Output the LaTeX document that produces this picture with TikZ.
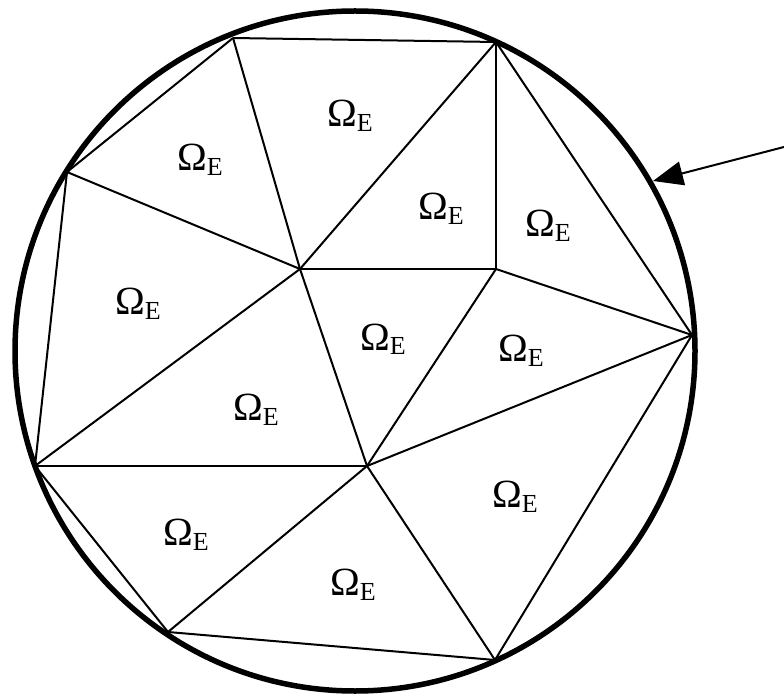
\documentclass[tikz,border=0pt]{standalone}
\usepackage{fontspec}
\setmainfont{Liberation Serif}
\usepackage{tikz}
\usetikzlibrary{arrows.meta}
\newcommand{\omegaE}{{\fontsize{40}{40}\selectfont Ω}\raisebox{-5pt}{\fontsize{26}{26}\selectfont E}}

\begin{document}
\begin{tikzpicture}[x=1pt,y=-1pt,edge/.style={line width=2pt},elabel/.style={anchor=base west,inner sep=0pt}]
\useasboundingbox (0,0) rectangle (784,700);
\coordinate (O) at (355,351);
\coordinate (A) at (233,38);
\coordinate (B) at (496,42);
\coordinate (C) at (67,172);
\coordinate (D) at (300,269);
\coordinate (E) at (496,269);
\coordinate (F) at (692,335);
\coordinate (G) at (35,466);
\coordinate (H) at (367,466);
\coordinate (I) at (168,632);
\coordinate (J) at (495,660);
\draw[edge] (A) -- (B);
\draw[edge] (A) -- (C);
\draw[edge] (A) -- (D);
\draw[edge] (C) -- (D);
\draw[edge] (C) -- (G);
\draw[edge] (B) -- (D);
\draw[edge] (B) -- (E);
\draw[edge] (B) -- (F);
\draw[edge] (D) -- (E);
\draw[edge] (E) -- (F);
\draw[edge] (D) -- (G);
\draw[edge] (D) -- (H);
\draw[edge] (E) -- (H);
\draw[edge] (F) -- (H);
\draw[edge] (F) -- (J);
\draw[edge] (G) -- (H);
\draw[edge] (G) -- (I);
\draw[edge] (H) -- (I);
\draw[edge] (H) -- (J);
\draw[edge] (I) -- (J);
\node[elabel] (L1) at (177,171) {\omegaE};
\node[elabel] (L2) at (327,127) {\omegaE};
\node[elabel] (L3) at (418,220) {\omegaE};
\node[elabel] (L4) at (525,237) {\omegaE};
\node[elabel] (L5) at (115,315) {\omegaE};
\node[elabel] (L6) at (360,350) {\omegaE};
\node[elabel] (L7) at (498,362) {\omegaE};
\node[elabel] (L8) at (233,420) {\omegaE};
\node[elabel] (L9) at (492,507) {\omegaE};
\node[elabel] (L10) at (163,545) {\omegaE};
\node[elabel] (L11) at (330,595) {\omegaE};
\draw[line width=5.5pt] (O) circle (340);
\coordinate (tail) at (784,147);
\coordinate (tip) at (653,181);
\draw[line width=2pt,-{Triangle[length=30pt,width=24pt]}] (tail) -- (tip);
\end{tikzpicture}
\end{document}
